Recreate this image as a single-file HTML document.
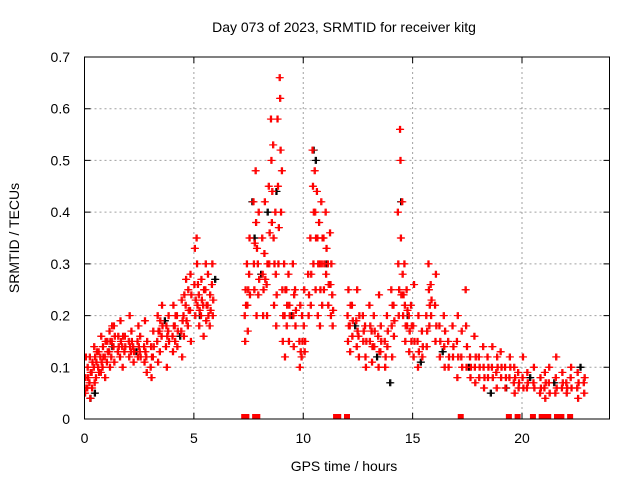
<!DOCTYPE html>
<html><head><meta charset="utf-8">
<style>
html,body{margin:0;padding:0;background:#fff}
svg{display:block;font-family:"Liberation Sans",sans-serif}
</style></head>
<body>
<svg id="chart" width="640" height="480" viewBox="0 0 640 480">
<text x="344" y="32" font-size="14" text-anchor="middle">Day 073 of 2023, SRMTID for receiver kitg</text>
<text x="344" y="471" font-size="14" text-anchor="middle">GPS time / hours</text>
<text transform="translate(19,238) rotate(-90)" font-size="14" text-anchor="middle">SRMTID / TECUs</text>
<g id="grid"></g>
<g id="ticks"></g>
<defs><clipPath id="pc"><rect x="84.5" y="57" width="525" height="362"/></clipPath></defs>
<g id="marks" clip-path="url(#pc)"></g>
<rect x="84.5" y="57" width="525" height="362" fill="none" stroke="#000" stroke-width="1"/>
</svg>
<script>
const xTicks=[0,5,10,15,20];
const yTicks=[0,0.1,0.2,0.3,0.4,0.5,0.6,0.7];
const yTickLabels=["0","0.1","0.2","0.3","0.4","0.5","0.6","0.7"];
const redTimes=[0.0,0.1,0.2,0.3,0.4,0.5,0.6,0.7,0.8,0.9,1.0,1.1,1.2,1.3,1.5,1.6,1.7,1.8,2.0,2.1,2.2,2.4,2.5,2.7,2.8,3.0,3.1,3.3,3.4,3.5,3.7,3.8,4.0,4.1,4.2,4.4,4.5,4.6,4.7,4.8,5.0,5.1,5.2,5.3,5.4,5.5,5.6,5.7,5.8,
7.3,7.4,7.5,7.7,7.8,7.9,8.1,8.2,8.3,8.4,8.5,8.6,8.7,8.8,8.9,9.0,9.1,9.2,9.3,9.5,9.6,9.8,9.9,10.0,10.2,10.3,10.4,10.5,10.6,10.7,10.8,10.9,11.0,11.1,11.2,11.3,
12.0,12.1,12.2,12.4,12.5,12.7,12.8,13.0,13.1,13.2,13.4,13.5,13.7,13.8,14.0,14.1,14.3,14.4,14.5,14.6,14.7,14.8,14.9,15.0,15.2,15.4,15.6,15.7,15.8,16.0,16.2,16.4,16.6,16.8,17.0,17.2,17.4,17.6,17.8,18.0,18.2,18.4,18.6,18.8,19.0,19.2,19.4,19.6,19.8,20.0,20.2,20.5,20.8,21.0,21.2,21.5,21.8,22.0,22.2,22.5,22.8];
const redValues=[[.05,.08,.12,.06],[.06,.1,.08],[.07,.12,.04,.09],[.09,.06,.11],[.1,.14,.07,.12],[.08,.11,.13],[.1,.13,.09],[.12,.09,.16,.11],[.1,.14,.12],[.12,.08,.15],[.11,.15,.13],[.13,.17,.1,.15],[.12,.15,.18],[.14,.18,.11,.16],[.13,.16,.14],[.12,.19,.15],[.14,.1,.16],[.13,.16,.14],[.15,.12,.2,.14],[.13,.17,.15],[.14,.11,.13],[.15,.12,.18,.14],[.13,.16,.12],[.14,.11,.19,.13],[.12,.09,.15],[.1,.14,.08,.12],[.12,.17,.14],[.15,.2,.11,.17],[.17,.13,.19],[.16,.22,.18],[.14,.18,.1,.16],[.17,.2,.15],[.16,.13,.22,.18],[.18,.15,.2],[.2,.14,.17],[.17,.23,.12,.19],[.2,.16,.24],[.22,.27,.19],[.18,.25,.21],[.21,.28,.15,.24],[.26,.33,.2,.23],[.35,.3,.22,.26],[.24,.18,.21],[.2,.27,.23],[.22,.16,.25],[.25,.3,.19,.22],[.22,.28,.2],[.18,.24,.21],[.26,.3,.2,.23],
[.2,.15,.25,.22],[.3,.22,.17,.25],[.28,.35,.24],[.42,.3,.25,.34],[.48,.38,.2,.33],[.3,.24,.4,.27],[.35,.28,.2,.25],[.32,.42,.27],[.26,.2,.3],[.45,.3,.36],[.58,.5,.38,.44],[.53,.35,.22,.3],[.4,.28,.18,.24],[.58,.45,.3,.37],[.66,.62,.52,.4],[.48,.25,.15,.2],[.3,.2,.12,.25],[.25,.18,.22],[.28,.15,.22,.2],[.3,.2,.14,.24],[.25,.18,.21],[.15,.1,.22,.13],[.12,.2,.15],[.18,.25,.13,.15],[.28,.2,.24],[.35,.22,.28],[.52,.45,.3,.4],[.48,.4,.25,.35],[.44,.35,.2,.3],[.38,.3,.18,.25],[.42,.3,.22,.35],[.35,.25,.3],[.4,.28,.33],[.3,.22,.26],[.36,.26,.2,.3],[.24,.18,.21],
[.2,.15,.25,.18],[.18,.13,.22],[.22,.16,.19],[.19,.14,.25,.17],[.16,.12,.2],[.2,.15,.17],[.18,.12,.1,.15],[.22,.15,.18],[.17,.11,.14],[.2,.14,.17],[.16,.1,.24,.13],[.13,.18,.15],[.15,.1,.12],[.2,.14,.17],[.25,.18,.12,.22],[.22,.16,.19],[.4,.3,.2,.25],[.56,.5,.35,.24],[.42,.28,.2,.24],[.3,.22,.15,.18],[.25,.18,.21],[.2,.13,.17],[.22,.15,.18],[.18,.12,.26,.15],[.15,.1,.2,.13],[.17,.12,.14],[.2,.14,.17],[.3,.25,.18,.22],[.26,.2,.23],[.22,.15,.28,.18],[.18,.12,.15],[.2,.14,.1,.17],[.15,.1,.12],[.18,.12,.14],[.15,.08,.2,.12],[.12,.17,.1],[.25,.18,.1,.14],[.12,.08,.1],[.16,.1,.07,.12],[.12,.08,.1],[.14,.1,.06,.08],[.12,.08,.1],[.1,.14,.08],[.09,.06,.12,.1],[.13,.08,.1],[.1,.06,.08],[.08,.12,.1],[.07,.1,.05,.08],[.09,.06,.07],[.08,.12,.06],[.06,.09,.07],[.07,.1,.06],[.05,.08,.06],[.06,.09,.04,.07],[.07,.1,.05],[.05,.08,.12,.06],[.06,.09,.07],[.07,.05,.06],[.08,.1,.06],[.06,.09,.04,.07],[.07,.05,.08]];
const blackTimes=[0.2,0.4,1.2,2.3,3.6,4.3,5.2,5.9,7.6,7.7,8.0,8.3,8.7,9.4,10.4,10.5,11.0,12.3,13.3,13.9,14.4,14.7,15.3,16.3,17.5,18.5,19.2,20.3,21.4,22.6];
const blackValues=[.04,.05,.14,.13,.19,.16,.2,.27,.42,.35,.28,.4,.44,.2,.52,.5,.3,.18,.12,.07,.42,.2,.11,.13,.1,.05,.06,.08,.07,.1];
const zeroTimes=[7.3,7.4,7.8,7.9,11.5,11.6,12.0,17.2,19.4,19.8,20.5,20.9,21.0,21.2,21.6,21.8,22.2];

const NS="http://www.w3.org/2000/svg";
const X0=84.5,X1=609.5,Y0=419,Y1=57,XMAX=24,YMAX=0.7;
function xs(t){return X0+(X1-X0)*t/XMAX;}
function ys(v){return Y0-(Y0-Y1)*v/YMAX;}
function mk(tag,attrs,parent){const e=document.createElementNS(NS,tag);for(const k in attrs)e.setAttribute(k,attrs[k]);parent.appendChild(e);return e;}
const grid=document.getElementById('grid'),ticks=document.getElementById('ticks'),marks=document.getElementById('marks');
xTicks.forEach(t=>{
  const x=xs(t);
  if(t>0){const g=mk('line',{x1:x,x2:x,y1:Y1,y2:Y0,stroke:'#a0a0a0','stroke-dasharray':'2,3'},grid);
  
  }
  const tk=mk('path',{d:`M${x},${Y0}v-6M${x},${Y1}v6`,stroke:'#000'},ticks);
  
  
  const l=mk('text',{x:x,y:443,'font-size':14,'text-anchor':'middle'},ticks);l.textContent=String(t);
  
  
});
yTicks.forEach((v,i)=>{
  const y=ys(v);
  if(v>0&&v<YMAX){const g=mk('line',{x1:X0,x2:X1,y1:y,y2:y,stroke:'#a0a0a0','stroke-dasharray':'2,3'},grid);
  
  }
  const tk=mk('path',{d:`M${X0},${y}h6M${X1},${y}h-6`,stroke:'#000'},ticks);
  
  
  const l=mk('text',{x:70,y:y+5,'font-size':14,'text-anchor':'end'},ticks);l.textContent=yTickLabels[i];
  
  
});
function plus(t,v,col,name){
  const x=xs(t),y=ys(v);
  const p=mk('path',{d:`M${x-3.5},${y}h7M${x},${y-3.5}v7`,stroke:col,'stroke-width':1.2},marks);
  
  
}
blackTimes.forEach((t,i)=>{plus(t+0.05,blackValues[i],'#000','black-point');plus(t+0.1,blackValues[i],'#000','black-point');});
redTimes.forEach((t,i)=>redValues[i].forEach((v,j)=>{plus(t+0.02*j,v,'#ff0000','red-point');plus(t+0.05+0.02*j,v,'#ff0000','red-point');}));
zeroTimes.forEach(t=>{
  const r=mk('rect',{x:xs(t)-3,y:Y0-5,width:6,height:5,fill:'#ff0000'},marks);
  
  
});
</script>
</body></html>
